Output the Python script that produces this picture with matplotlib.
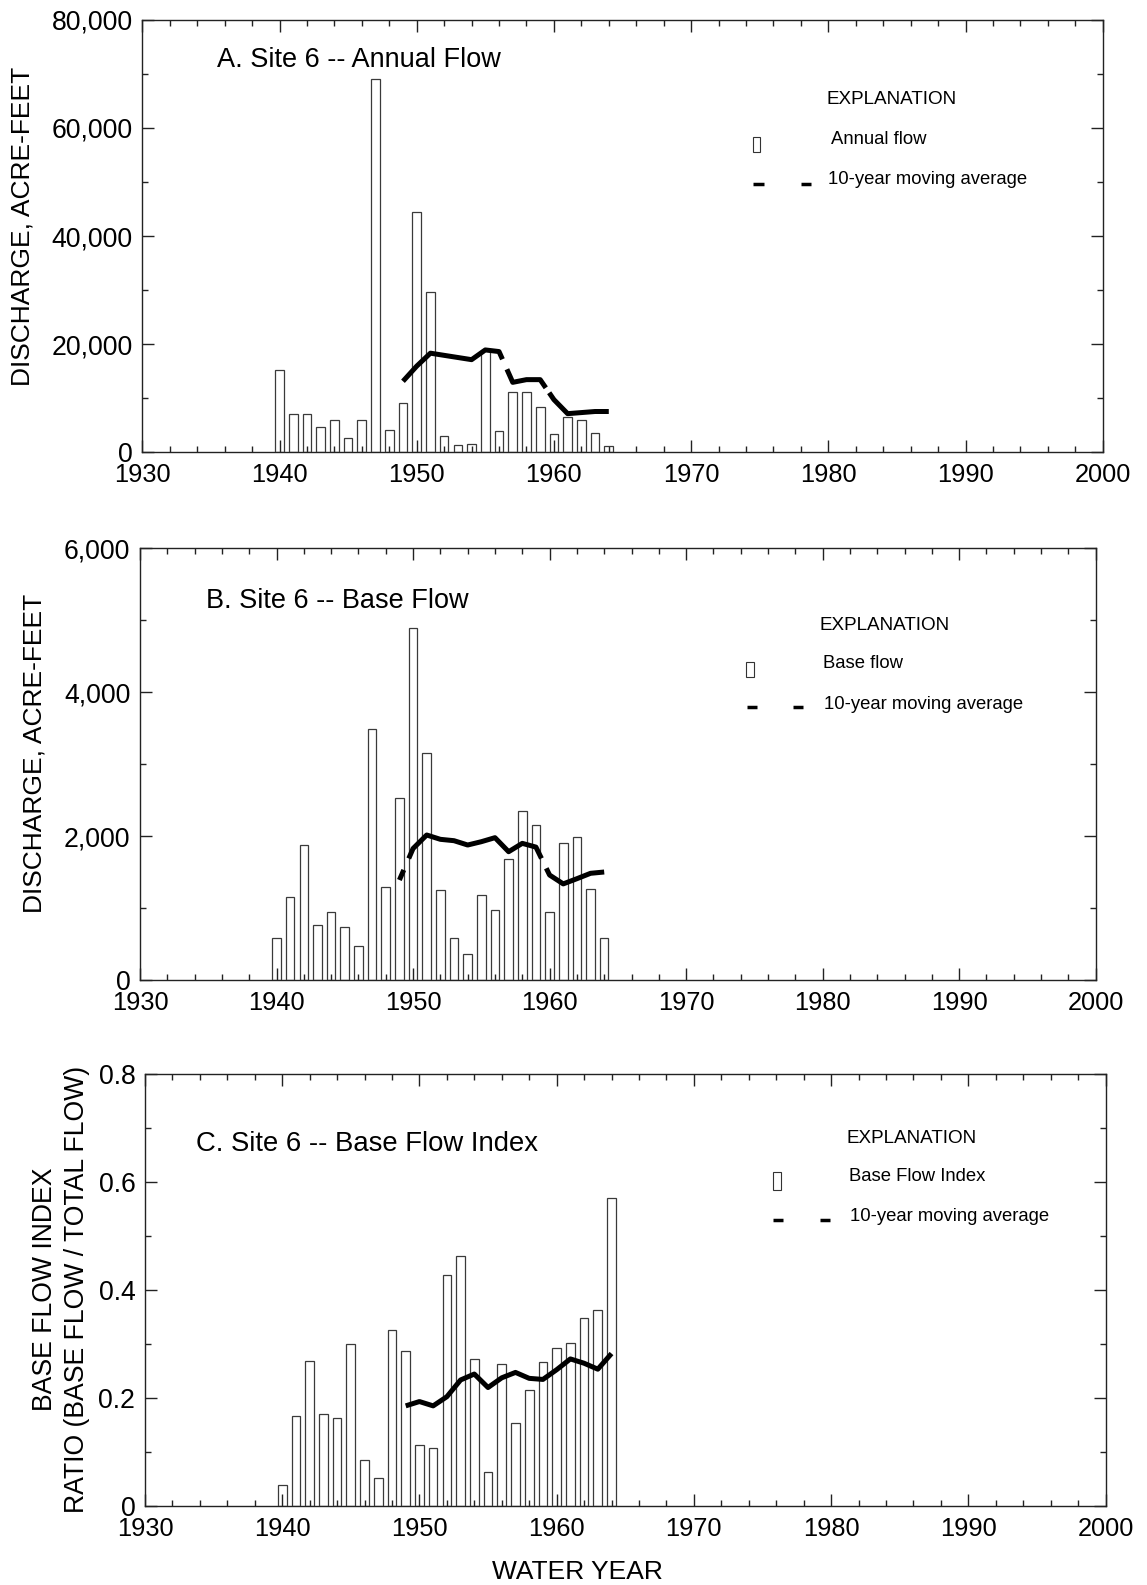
import matplotlib
matplotlib.use("Agg")
import matplotlib.pyplot as plt
from matplotlib.ticker import MultipleLocator, FuncFormatter
from matplotlib.patches import Rectangle
from matplotlib.lines import Line2D

plt.rcParams['font.family'] = ['Liberation Sans', 'DejaVu Sans']
plt.rcParams['lines.scale_dashes'] = False

# --- data ---
years = list(range(1940, 1965))
ma_years = list(range(1949, 1965))

annual_flow = [15200, 7100, 7100, 4600, 6000, 2600, 6000, 69100, 4100, 9000,
               44400, 29700, 3000, 1300, 1400, 18900, 3900, 11100, 11100, 8300,
               3400, 6500, 6000, 3600, 1100]
annual_ma = [13100, 15900, 18300, 17900, 17500, 17100, 18900, 18600,
             12900, 13400, 13400, 9700, 7100, 7300, 7500, 7500]

base_flow = [583, 1161, 1875, 764, 949, 736, 481, 3494, 1292, 2528,
             4893, 3161, 1259, 592, 361, 1189, 981, 1681, 2347, 2157,
             953, 1903, 1995, 1264, 592]
base_ma = [1393, 1830, 2018, 1958, 1939, 1879, 1925, 1981,
           1786, 1902, 1850, 1462, 1339, 1411, 1486, 1504]

bfi = [0.038, 0.167, 0.269, 0.170, 0.162, 0.299, 0.084, 0.051, 0.326, 0.286,
       0.112, 0.106, 0.427, 0.462, 0.272, 0.063, 0.262, 0.153, 0.214, 0.266,
       0.293, 0.301, 0.348, 0.363, 0.571]
bfi_ma = [0.185, 0.193, 0.185, 0.202, 0.233, 0.244, 0.219, 0.237,
          0.247, 0.236, 0.234, 0.252, 0.272, 0.264, 0.253, 0.282]

W, H = 1147, 1585
fig = plt.figure(figsize=(W / 100, H / 100), dpi=100)


def fx(x):
    return x / W


def fy(y):
    return 1 - y / H


def comma_fmt(v, pos):
    return f"{v:,.0f}"


def ratio_fmt(v, pos):
    return "0" if abs(v) < 1e-9 else f"{v:.1f}"


def add_legend(expl, box, bar_label, dash_y, dash_x, ma_label):
    # expl: (x, y) of EXPLANATION; box: (x0, y0, x1, y1) in pixels
    fig.text(fx(expl[0]), fy(expl[1]), "EXPLANATION", fontsize=13.6, va='center', ha='left')
    x0, y0, x1, y1 = box
    fig.add_artist(Rectangle((fx(x0), fy(y1)), (x1 - x0) / W, (y1 - y0) / H,
                             transform=fig.transFigure, fill=False, lw=0.8, ec='#333333'))
    fig.text(fx(bar_label[0]), fy(bar_label[1]), bar_label[2], fontsize=13.3, va='center', ha='left')
    for a, b in dash_x:
        fig.add_artist(Line2D([fx(a), fx(b)], [fy(dash_y), fy(dash_y)], transform=fig.transFigure,
                              lw=2.5, color='black', solid_capstyle='butt'))
    fig.text(fx(ma_label[0]), fy(ma_label[1]), ma_label[2], fontsize=13.3, va='center', ha='left')


def draw_panel(rect, values, ma, ymax, ymajor, yminor, yfmt, dash):
    l, t, r, b = rect
    ax = fig.add_axes([fx(l), fy(b), (r - l) / W, (b - t) / H])
    ax.bar(years, values, width=0.63, fill=False, edgecolor='#3a3a3a', linewidth=0.9, zorder=3)
    ls = '-' if dash is None else (0, dash)
    ax.plot(ma_years, ma, color='black', lw=3.6, linestyle=ls,
            dash_capstyle='butt', solid_capstyle='butt',
            solid_joinstyle='round', dash_joinstyle='round', zorder=4)
    ax.set_xlim(1930, 2000)
    ax.set_ylim(0, ymax)
    ax.xaxis.set_major_locator(MultipleLocator(10))
    ax.xaxis.set_minor_locator(MultipleLocator(2))
    ax.yaxis.set_major_locator(MultipleLocator(ymajor))
    ax.yaxis.set_minor_locator(MultipleLocator(yminor))
    ax.yaxis.set_major_formatter(FuncFormatter(yfmt))
    ax.tick_params(which='both', direction='in', top=True, right=True,
                   color='#222222', width=1.0)
    ax.tick_params(which='major', length=8.6)
    ax.tick_params(which='minor', length=4)
    ax.tick_params(axis='x', which='major', labelsize=18.3, pad=8)
    ax.tick_params(axis='y', which='major', labelsize=19.2, pad=7)
    for s in ax.spines.values():
        s.set_linewidth(1.0)
        s.set_color('#222222')
    return ax


# --- panel A ---
draw_panel((142.3, 20, 1102.7, 452), annual_flow, annual_ma, 80000, 20000, 10000,
           comma_fmt, (86.4, 7.9, 37.4, 4.3, 720, 1))
fig.text(fx(217), fy(66.7), "A. Site 6 -- Annual Flow", fontsize=19.5, va='baseline', ha='left')
fig.text(fx(23), fy(226), "DISCHARGE, ACRE-FEET", fontsize=19, rotation=90, ha='center', va='center')
add_legend((827, 100), (753, 137.5, 760, 151.5), (831, 139.5, "Annual flow"),
           183.5, [(753.3, 764.3), (801, 811)], (828, 179, "10-year moving average"))

# --- panel B ---
draw_panel((140, 548.3, 1095.7, 980.3), base_flow, base_ma, 6000, 2000, 1000,
           comma_fmt, (7.9, 9.0, 117.4, 7.9, 720, 1))
fig.text(fx(206), fy(608.3), "B. Site 6 -- Base Flow", fontsize=19.5, va='baseline', ha='left')
fig.text(fx(35), fy(753), "DISCHARGE, ACRE-FEET", fontsize=19, rotation=90, ha='center', va='center')
add_legend((820, 625), (746, 662, 754, 677), (822.7, 663, "Base flow"),
           707.3, [(746.7, 756.7), (793, 803)], (824, 704, "10-year moving average"))

# --- panel C ---
draw_panel((145, 1074, 1105.5, 1505.7), bfi, bfi_ma, 0.8, 0.2, 0.1, ratio_fmt, None)
fig.text(fx(196), fy(1151), "C. Site 6 -- Base Flow Index", fontsize=19.8, va='baseline', ha='left')
fig.text(fx(61), fy(1289), "BASE FLOW INDEX\nRATIO (BASE FLOW / TOTAL FLOW)", fontsize=19.2,
         rotation=90, ha='center', va='center', multialignment='center', linespacing=1.3)
add_legend((846.7, 1138.5), (772.5, 1172, 780.5, 1190), (849.3, 1176.5, "Base Flow Index"),
           1220, [(773, 783), (820, 830)], (850, 1216.7, "10-year moving average"))

fig.text(fx(577), fy(1572), "WATER YEAR", fontsize=19, ha='center', va='center')

fig.savefig("out.png", dpi=100)
